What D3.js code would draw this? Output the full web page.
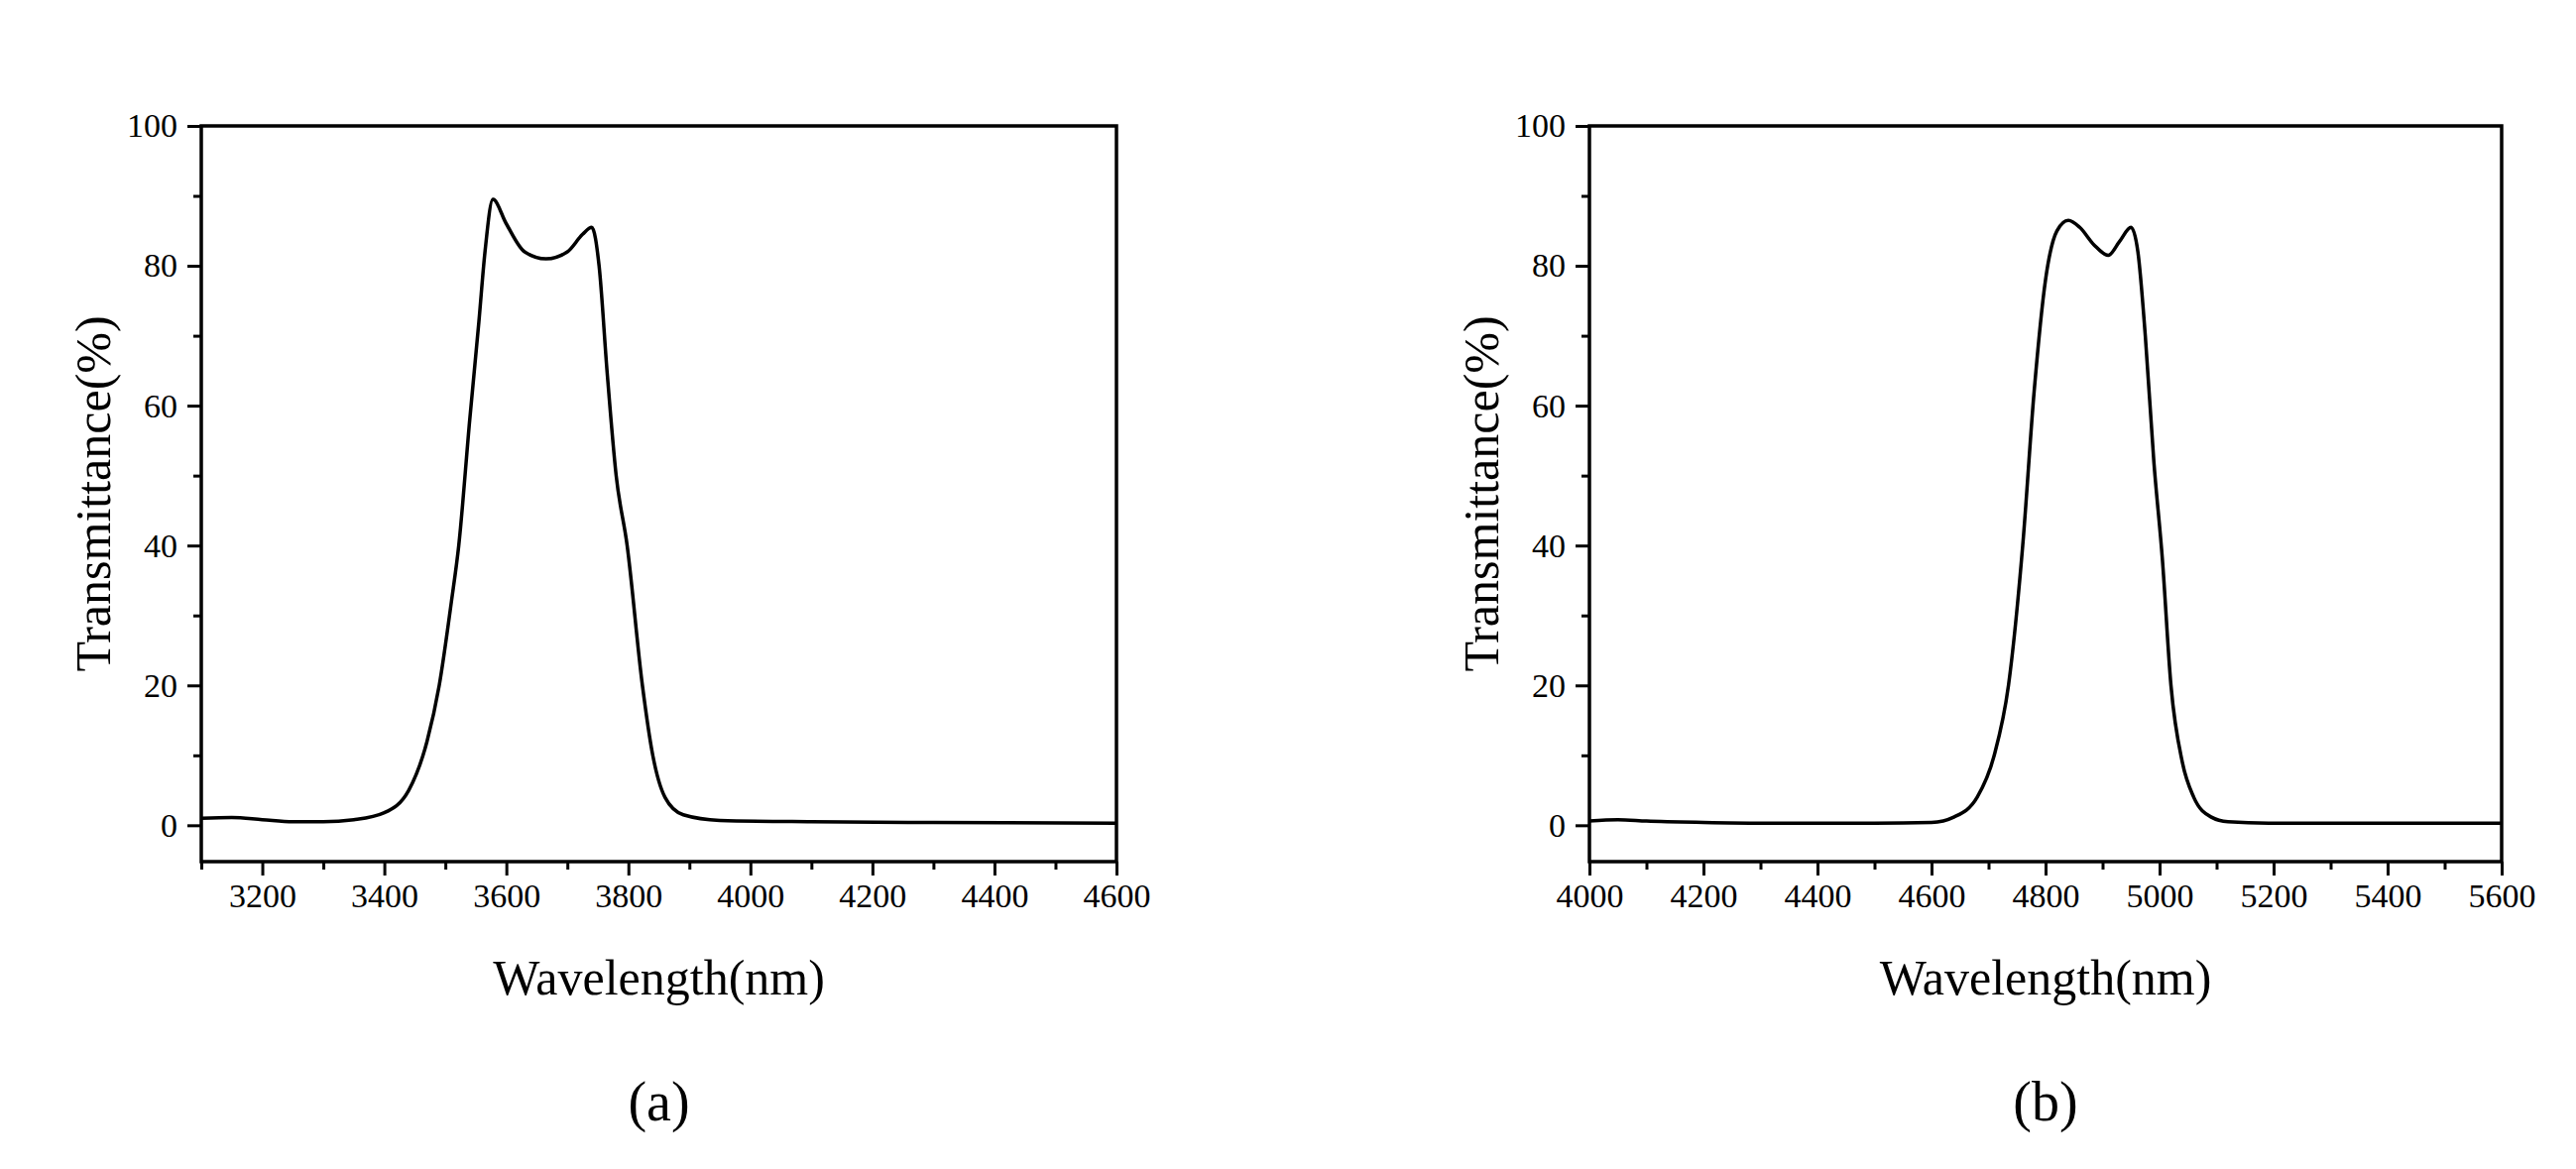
<!DOCTYPE html>
<html><head><meta charset="utf-8">
<script src="https://cdn.jsdelivr.net/npm/d3@7"></script>
<style>body{margin:0;background:#fff}</style></head>
<body><svg id="c" width="2598" height="1179"></svg>
<script>
const waveA=[3100,3150,3200,3250,3300,3350,3400,3440,3470,3490,3510,3522,3540,3555,3565,3578,3600,3630,3665,3700,3725,3740,3752,3765,3780,3798,3823,3840,3860,3890,3950,4100,4300,4600];
const transA=[1.0,1.1,0.8,0.5,0.5,0.8,1.8,5,12,20,32,40,58,72,82,89.5,86,82,81,82,84.5,85.5,80,65,50,40,20,10,4,1.5,0.7,0.5,0.4,0.3];
const waveB=[4000,4050,4100,4200,4300,4400,4500,4600,4640,4680,4710,4735,4760,4780,4800,4820,4840,4860,4885,4910,4930,4950,4962,4975,4990,5005,5020,5040,5060,5090,5120,5200,5400,5600];
const transB=[0.6,0.8,0.6,0.4,0.3,0.3,0.3,0.4,1.2,4,10,20,40,62,78,85,86.5,85.5,83,81.5,83.5,85.5,82,70,52,38,20,9,4,1.2,0.5,0.3,0.3,0.3];
const ticksA=[3200,3400,3600,3800,4000,4200,4400,4600];
const ticksB=[4000,4200,4400,4600,4800,5000,5200,5400,5600];
const yTicks=[0,20,40,60,80,100];
const svg=d3.select("#c");
const F="Liberation Serif, Times New Roman, serif";
function panel(x0,x1,dom,ticks,wave,tr,lab){
  const y0=127,y1=869;
  const x=d3.scaleLinear().domain(dom).range([x0,x1]);
  const y=d3.scaleLinear().domain([-5.2,100]).range([y1,y0]);
  const g=svg.append("g");
  const minorX=d3.range(dom[0],dom[1]+1,100).filter(v=>!ticks.includes(v));
  g.append("g").attr("transform",`translate(0,${y1})`).call(d3.axisBottom(x).tickValues(minorX).tickSize(8).tickFormat(""));
  g.append("g").attr("transform",`translate(0,${y1})`).call(d3.axisBottom(x).tickValues(ticks).tickSize(14).tickPadding(8).tickFormat(d3.format("d")));
  g.append("g").attr("transform",`translate(${x0},0)`).call(d3.axisLeft(y).tickValues([10,30,50,70,90]).tickSize(8).tickFormat(""));
  g.append("g").attr("transform",`translate(${x0},0)`).call(d3.axisLeft(y).tickValues(yTicks).tickSize(14).tickPadding(10));
  g.selectAll(".domain").remove();
  g.selectAll(".tick line").attr("stroke","#000").attr("stroke-width",3);
  g.selectAll(".tick text").attr("font-family",F).attr("font-size",34).attr("fill","#000");
  g.append("rect").attr("x",x0).attr("y",y0).attr("width",x1-x0).attr("height",y1-y0).attr("fill","none").attr("stroke","#000").attr("stroke-width",3.5);
  g.append("path").datum(wave.map((w,i)=>[w,tr[i]])).attr("fill","none").attr("stroke","#000").attr("stroke-width",3.5)
   .attr("d",d3.line().x(d=>x(d[0])).y(d=>y(d[1])).curve(d3.curveMonotoneX));
  g.append("text").attr("x",(x0+x1)/2).attr("y",1003).attr("text-anchor","middle").attr("font-family",F).attr("font-size",50).text("Wavelength(nm)");
  g.append("text").attr("transform",`translate(${x0-92},${(y0+y1)/2}) rotate(-90)`).attr("text-anchor","middle").attr("font-family",F).attr("font-size",50).text("Transmittance(%)");
  g.append("text").attr("x",(x0+x1)/2).attr("y",1130).attr("text-anchor","middle").attr("font-family",F).attr("font-size",56).text(lab);
}
panel(203,1126,[3100,4600],ticksA,waveA,transA,"(a)");
panel(1603,2523,[4000,5600],ticksB,waveB,transB,"(b)");
</script></body></html>
